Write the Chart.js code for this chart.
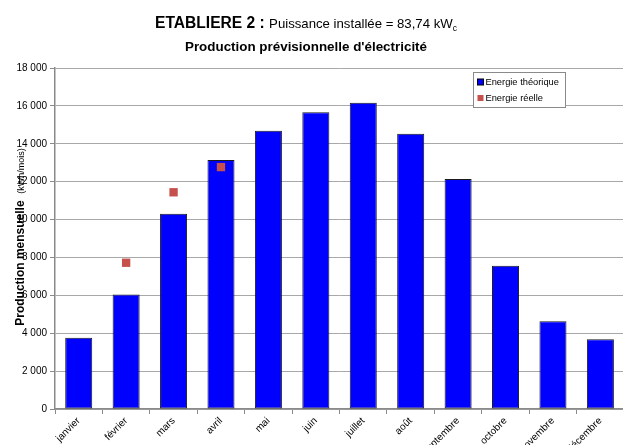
<!DOCTYPE html>
<html>
<head>
<meta charset="utf-8">
<script src="https://cdn.jsdelivr.net/npm/chart.js@4/dist/chart.umd.min.js"></script>
<style>
  html, body { margin: 0; padding: 0; background: #fff; overflow: hidden; }
  #wrap { width: 630px; height: 445px; }
</style>
</head>
<body>
<div id="wrap"><canvas id="myChart" width="630" height="445" style="width:630px;height:445px"></canvas></div>
<script>
/* globals Chart:false */

// Data
const months = ['janvier', 'février', 'mars', 'avril', 'mai', 'juin', 'juillet', 'août', 'septembre', 'octobre', 'novembre', 'décembre']
const energieTheorique = [3760, 6050, 10300, 13150, 14690, 15660, 16170, 14530, 12140, 7560, 4630, 3680]
const energieReelle = [null, 7720, 11440, 12770, null, null, null, null, null, null, null, null]
const yMin = 0
const yMax = 18000
const yStep = 2000

const FONT = '"Liberation Sans", Arial, sans-serif'

const fmt = v => String(v).replace(/\B(?=(\d{3})+(?!\d))/g, ' ')

// titles + y axis title (mixed fonts, so drawn by hand)
const titlesPlugin = {
  id: 'titles',
  afterDraw (chart) {
    const ctx = chart.ctx
    ctx.save()
    ctx.fillStyle = '#000'
    ctx.textBaseline = 'alphabetic'
    ctx.textAlign = 'left'

    const parts = [
      { t: 'ETABLIERE 2 : ', f: 'bold 15.6px ' + FONT, dy: 0 },
      { t: 'Puissance installée = 83,74 kW', f: '13.2px ' + FONT, dy: 0 },
      { t: 'c', f: '8.5px ' + FONT, dy: 3 }
    ]
    let w = 0
    parts.forEach(p => { ctx.font = p.f; p.w = ctx.measureText(p.t).width; w += p.w })
    let x = 306 - w / 2
    parts.forEach(p => { ctx.font = p.f; ctx.fillText(p.t, x, 28 + p.dy); x += p.w })

    ctx.font = 'bold 13.4px ' + FONT
    ctx.textAlign = 'center'
    ctx.fillText('Production prévisionnelle d\'électricité', 306, 51)

    // y axis title
    ctx.translate(24, 237)
    ctx.rotate(-Math.PI / 2)
    ctx.textAlign = 'left'
    const yparts = [
      { t: 'Production mensuelle  ', f: 'bold 12px ' + FONT },
      { t: '(kWh/mois)', f: '9px ' + FONT }
    ]
    w = 0
    yparts.forEach(p => { ctx.font = p.f; p.w = ctx.measureText(p.t).width; w += p.w })
    x = -w / 2
    yparts.forEach(p => { ctx.font = p.f; ctx.fillText(p.t, x, 0); x += p.w })
    ctx.restore()
  }
}

// legend box inside the plot
const legendBoxPlugin = {
  id: 'legendBox',
  afterDraw (chart) {
    const ctx = chart.ctx
    const bx = 473.5
    const by = 72.5
    ctx.save()
    ctx.fillStyle = '#fff'
    ctx.fillRect(bx, by, 92, 35)
    ctx.strokeStyle = '#8a8a8a'
    ctx.lineWidth = 1
    ctx.strokeRect(bx, by, 92, 35)
    ctx.font = '9.3px ' + FONT
    ctx.textBaseline = 'middle'
    ctx.textAlign = 'left'
    chart.data.datasets.forEach((ds, i) => {
      const cy = by + 9.5 + i * 16
      ctx.fillStyle = ds.backgroundColor
      ctx.fillRect(bx + 4, cy - 3, 6, 6)
      if (i === 0) {
        ctx.strokeStyle = '#000'
        ctx.strokeRect(bx + 4, cy - 3, 6, 6)
      }
      ctx.fillStyle = '#000'
      ctx.fillText(ds.label, bx + 12, cy)
    })
    ctx.restore()
  }
}

const ctx = document.getElementById('myChart')
// eslint-disable-next-line no-unused-vars
const myChart = new Chart(ctx, {
  type: 'bar',
  data: {
    labels: months,
    datasets: [{
      label: 'Energie théorique',
      data: energieTheorique,
      backgroundColor: '#0000ff',
      borderColor: '#1a1a1a',
      borderWidth: 1,
      borderSkipped: false,
      barPercentage: 0.57,
      categoryPercentage: 1,
      order: 2
    }, {
      type: 'line',
      label: 'Energie réelle',
      data: energieReelle,
      showLine: false,
      pointStyle: 'rect',
      pointRadius: 5.9,
      pointHoverRadius: 5.9,
      backgroundColor: '#c6504c',
      borderColor: '#c6504c',
      pointBorderWidth: 0,
      order: 1
    }]
  },
  options: {
    responsive: false,
    animation: false,
    layout: { padding: { top: 68, left: 0, right: 4, bottom: 0 } },
    plugins: {
      legend: { display: false },
      title: { display: false },
      tooltip: { enabled: false }
    },
    scales: {
      x: {
        offset: true,
        grid: {
          offset: true,
          drawOnChartArea: false,
          drawTicks: true,
          tickLength: 5,
          tickColor: '#8a8a8a'
        },
        border: { color: '#8a8a8a', width: 1.5 },
        ticks: {
          minRotation: 45,
          maxRotation: 45,
          autoSkip: false,
          padding: 1,
          color: '#000',
          font: { family: FONT, size: 10 }
        },
        afterFit (scale) { scale.height = 36 }
      },
      y: {
        min: yMin,
        max: yMax,
        grid: {
          color: '#a8a8a8',
          tickColor: '#8a8a8a',
          tickLength: 5
        },
        border: { color: '#8a8a8a', width: 1.5 },
        ticks: {
          stepSize: yStep,
          padding: 3,
          color: '#000',
          font: { family: FONT, size: 10 },
          callback: v => fmt(v)
        },
        afterFit (scale) { scale.width = 55 }
      }
    }
  },
  plugins: [titlesPlugin, legendBoxPlugin]
})
</script>
</body>
</html>
